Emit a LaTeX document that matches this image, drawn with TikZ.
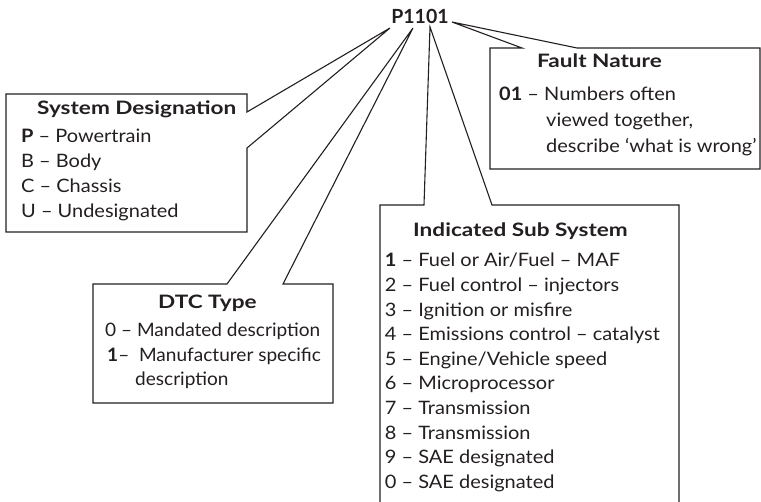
\documentclass[tikz,border=0pt]{standalone}
\usepackage{fontspec}
\usepackage{graphicx}
\setmainfont{Lato}
\definecolor{ink}{HTML}{231F20}
\newcommand{\wideA}[1]{\scalebox{1.08}[1]{#1}}
\newcommand{\wideC}[1]{\scalebox{1.03}[1]{#1}}
\newcommand{\wideB}[1]{\scalebox{1.22}[1]{#1}}
\begin{document}
\begin{tikzpicture}[x=1pt,y=-1pt,
  txt/.style={anchor=base west, inner sep=0pt, text=ink, font=\fontsize{18.5}{21}\selectfont},
  ttl/.style={anchor=base west, inner sep=0pt, text=ink, font=\fontsize{18.5}{21}\selectfont\bfseries},
  codestyle/.style={anchor=base, inner sep=0pt, text=ink, font=\fontsize{19.5}{21}\selectfont\bfseries},
  callout/.style={draw=ink, line width=1.1pt, line join=miter}]
\useasboundingbox (0,0) rectangle (761,502);
\clip (0,0) rectangle (761,502);

% code
\node[codestyle] (code) at (420,24) {P1101};
\coordinate (tipP) at (390,28);
\coordinate (tipA) at (413,28);
\coordinate (tipB) at (430,27);
\coordinate (tipC) at (452,22);

% System Designation
\draw[callout] (247,112) -- (tipP) -- (247,148) -- (247,232) -- (6,232) -- (6,94) -- (247,94) -- cycle;
\node[ttl] (sysT) at (37,115) {\wideB{System Designation}};
\node[txt] (sys1) at (21,143) {\wideA{\textbf{P} -- Powertrain}};
\node[txt] (sys2) at (21,168) {\wideA{B -- Body}};
\node[txt] (sys3) at (21,193) {\wideA{C -- Chassis}};
\node[txt] (sys4) at (21,218) {\wideA{U -- Undesignated}};

% DTC Type
\draw[callout] (227,284) -- (tipA) -- (283,284) -- (333,284) -- (333,403) -- (93,403) -- (93,284) -- cycle;
\node[ttl] (dtcT) at (158,309) {\wideB{DTC Type}};
\node[txt] (dtc1) at (105,337) {\wideC{0 -- Mandated description}};
\node[txt] (dtc2) at (107,362) {\wideC{\textbf{1}--\ \ Manufacturer specific}};
\node[txt] (dtc3) at (135,386) {\wideC{description}};

% Indicated Sub System
\draw[callout] (424,205) -- (tipB) -- (492,205) -- (679,205) -- (679,520) -- (380,520) -- (380,205) -- cycle;
\node[ttl] (subT) at (413,237) {\wideB{Indicated Sub System}};
\node[txt] (sub1) at (385,267.0) {\wideA{\makebox[10.5pt][r]{\textbf{1}} -- Fuel or Air/Fuel -- MAF}};
\node[txt] (sub2) at (385,291.6) {\wideA{\makebox[10.5pt][r]{2} -- Fuel control -- injectors}};
\node[txt] (sub3) at (385,316.2) {\wideA{\makebox[10.5pt][r]{3} -- Ignition or misfire}};
\node[txt] (sub4) at (385,340.8) {\wideA{\makebox[10.5pt][r]{4} -- Emissions control -- catalyst}};
\node[txt] (sub5) at (385,365.4) {\wideA{\makebox[10.5pt][r]{5} -- Engine/Vehicle speed}};
\node[txt] (sub6) at (385,390.0) {\wideA{\makebox[10.5pt][r]{6} -- Microprocessor}};
\node[txt] (sub7) at (385,414.6) {\wideA{\makebox[10.5pt][r]{7} -- Transmission}};
\node[txt] (sub8) at (385,439.2) {\wideA{\makebox[10.5pt][r]{8} -- Transmission}};
\node[txt] (sub9) at (385,463.8) {\wideA{\makebox[10.5pt][r]{9} -- SAE designated}};
\node[txt] (sub0) at (385,488.4) {\wideA{\makebox[10.5pt][r]{0} -- SAE designated}};

% Fault Nature
\draw[callout] (522,48) -- (tipC) -- (577,48) -- (760,48) -- (760,169) -- (490,169) -- (490,48) -- cycle;
\node[ttl] (fltT) at (537,68) {\wideB{Fault Nature}};
\node[txt] (flt1) at (499,101) {\wideA{\textbf{01} -- Numbers often}};
\node[txt] (flt2) at (546,127) {\wideA{viewed together,}};
\node[txt] (flt3) at (546,153) {\wideA{describe ‘what is wrong’}};
\end{tikzpicture}
\end{document}
